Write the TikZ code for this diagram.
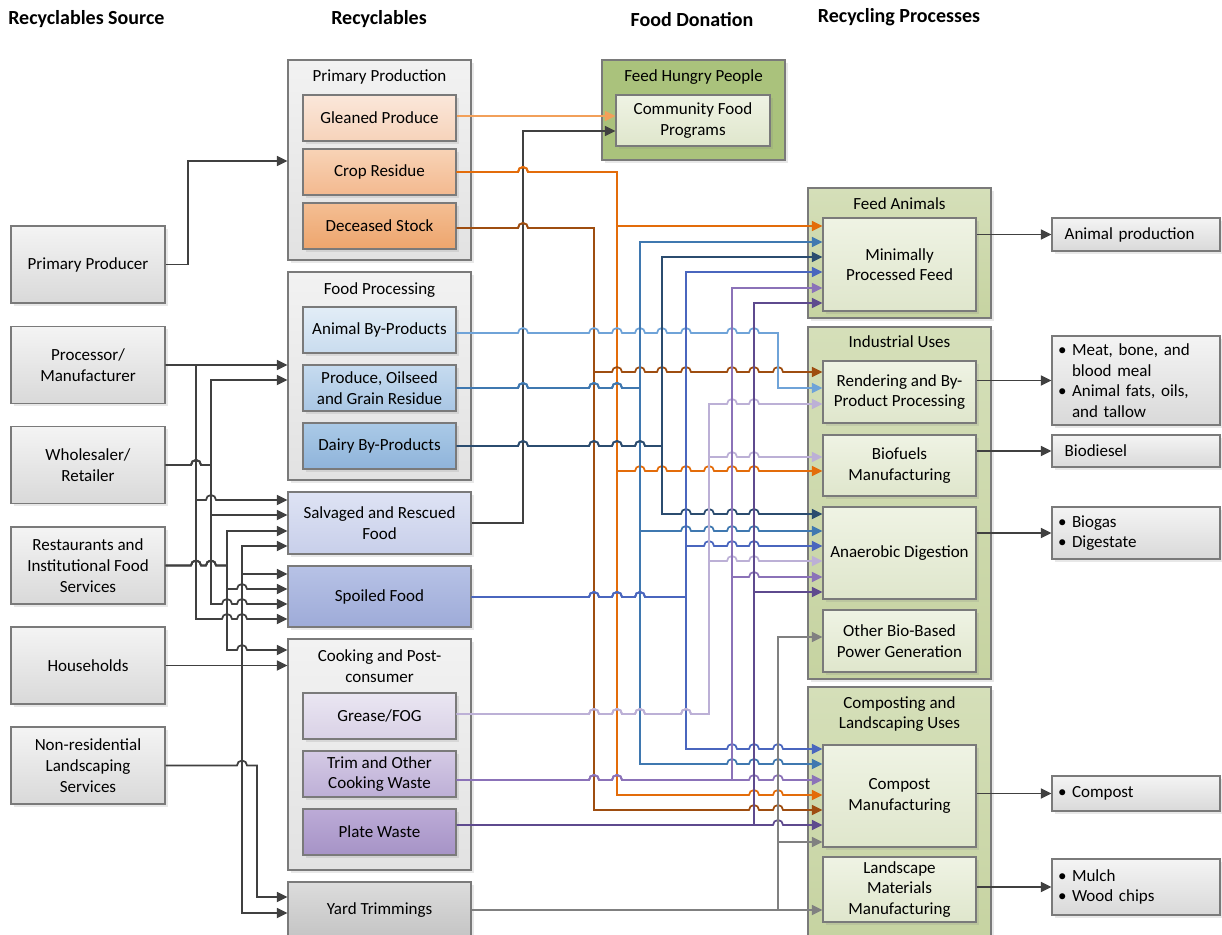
\documentclass[tikz,border=0pt]{standalone}
\usepackage{fontspec}
\setmainfont{Carlito}
\usetikzlibrary{arrows.meta,shadows}

\newcommand\boxfont{\fontsize{12.75pt}{15.5pt}\selectfont}
\newcommand\headfont{\fontsize{15pt}{18pt}\selectfont\bfseries}
% line hop over a vertical line at x=#1, on a horizontal line at y=#2
\newcommand\hopat[2]{-- (#1-5,#2) arc[start angle=180,end angle=0,radius=3.75pt]}
\newcommand\bitem{\makebox[10.5pt][l]{\textbullet}}

% box fills
\definecolor{edgeGray}{HTML}{7A7A7A}
\definecolor{srcTop}{HTML}{F4F4F4}
\definecolor{srcBot}{HTML}{D9D9D9}
\definecolor{grpTop}{HTML}{F2F2F2}
\definecolor{grpBot}{HTML}{E2E2E2}
\definecolor{glTop}{HTML}{FBE7DA}
\definecolor{glBot}{HTML}{F6D3BA}
\definecolor{crTop}{HTML}{F8D3B6}
\definecolor{crBot}{HTML}{F3B98F}
\definecolor{dsTop}{HTML}{F4BE93}
\definecolor{dsBot}{HTML}{EDA56D}
\definecolor{abTop}{HTML}{E2EDF7}
\definecolor{abBot}{HTML}{C9DCEE}
\definecolor{poTop}{HTML}{C6DBEF}
\definecolor{poBot}{HTML}{A9C6E4}
\definecolor{dbTop}{HTML}{AACAE7}
\definecolor{dbBot}{HTML}{8FB3DA}
\definecolor{svTop}{HTML}{DEE3F4}
\definecolor{svBot}{HTML}{C8CFEA}
\definecolor{spTop}{HTML}{B7C2E6}
\definecolor{spBot}{HTML}{9EABD8}
\definecolor{grTop}{HTML}{EAE6F2}
\definecolor{grBot}{HTML}{D9D1E6}
\definecolor{tmTop}{HTML}{D4CAE5}
\definecolor{tmBot}{HTML}{BDAFD6}
\definecolor{pwTop}{HTML}{BCABD7}
\definecolor{pwBot}{HTML}{A693C6}
\definecolor{ydTop}{HTML}{DCDCDC}
\definecolor{ydBot}{HTML}{C4C4C4}
\definecolor{fhpFill}{HTML}{AAC27C}
\definecolor{gnTop}{HTML}{EFF3E4}
\definecolor{gnBot}{HTML}{DFE6CC}
\definecolor{rpTop}{HTML}{D5DFB9}
\definecolor{rpBot}{HTML}{C6D3A1}
% connector colours
\definecolor{cDark}{HTML}{404040}
\definecolor{cGlean}{HTML}{F2A05A}
\definecolor{cCrop}{HTML}{E36C0A}
\definecolor{cDec}{HTML}{9E4D10}
\definecolor{cAnim}{HTML}{6FA3D8}
\definecolor{cProd}{HTML}{3F78B0}
\definecolor{cDairy}{HTML}{2B4C6F}
\definecolor{cSpoil}{HTML}{4A66BE}
\definecolor{cGrease}{HTML}{BCB0D6}
\definecolor{cTrim}{HTML}{8B72B8}
\definecolor{cPlate}{HTML}{5E4A8E}
\definecolor{cYard}{HTML}{808080}

\tikzset{
  sz/.style 2 args={minimum width=#1*0.75pt, minimum height=#2*0.75pt},
  bx/.style={draw=edgeGray, line width=0.8pt, inner sep=1pt, align=center, font=\boxfont,
    drop shadow={shadow xshift=2pt, shadow yshift=-2pt, opacity=0.18}},
  srcbox/.style={bx, top color=srcTop, bottom color=srcBot, sz={154}{77}},
  grpbox/.style={bx, top color=grpTop, bottom color=grpBot},
  subbox/.style 2 args={bx, top color=#1, bottom color=#2, sz={153}{46}},
  rpbox/.style={bx, top color=rpTop, bottom color=rpBot},
  gnbox/.style={bx, top color=gnTop, bottom color=gnBot},
  outbox/.style={bx, top color=srcTop, bottom color=srcBot, minimum height=#1*0.75pt,
    text width=117pt, inner xsep=4.5pt, align=left},
  head/.style={font=\headfont, inner sep=0pt},
  lbl/.style={font=\boxfont, inner sep=0pt, align=center},
  ln/.style={line width=1.3pt, draw=cDark, -{Triangle[length=8pt,width=7.5pt]}}
}

\begin{document}
\begin{tikzpicture}[x=0.75pt,y=-0.75pt]
\useasboundingbox (0,0) rectangle (1222,935);
\clip (0,0) rectangle (1222,935);

% column headings
\node[head, anchor=west] (hsrc) at (8,19) {Recyclables Source};
\node[head] (hrec) at (379,19) {Recyclables};
\node[head] (hdon) at (692,20) {Food Donation};
\node[head] (hpro) at (899,17) {Recycling Processes};

% recyclables source
\node[srcbox] (pprod) at (88,264.5) {Primary Producer};
\node[srcbox] (procm) at (88,365) {Processor/\\Manufacturer};
\node[srcbox] (whole) at (88,465) {Wholesaler/\\Retailer};
\node[srcbox] (rest) at (88,565.5) {Restaurants and\\Institutional Food\\Services};
\node[srcbox] (house) at (88,665.5) {Households};
\node[srcbox] (nonres) at (88,765.5) {Non-residential\\Landscaping\\Services};

% recyclables
\node[grpbox, sz={183}{200}] (ppgrp) at (379.5,160) {};
\node[lbl] (pptxt) at (379.5,77) {Primary Production};
\node[subbox={glTop}{glBot}] (glean) at (379.5,118) {Gleaned Produce};
\node[subbox={crTop}{crBot}] (crop) at (379.5,172) {Crop Residue};
\node[subbox={dsTop}{dsBot}] (dec) at (379.5,226) {Deceased Stock};

\node[grpbox, sz={183}{208}] (fpgrp) at (379.5,376) {};
\node[lbl] (fptxt) at (379.5,290) {Food Processing};
\node[subbox={abTop}{abBot}] (anim) at (379.5,330) {Animal By-Products};
\node[subbox={poTop}{poBot}] (prod) at (379.5,388) {Produce, Oilseed\\and Grain Residue};
\node[subbox={dbTop}{dbBot}] (dairy) at (379.5,446) {Dairy By-Products};

\node[bx, top color=svTop, bottom color=svBot, sz={183}{62}] (salv) at (379.5,523) {Salvaged and Rescued\\Food};
\node[bx, top color=spTop, bottom color=spBot, sz={183}{61}] (spoil) at (379.5,596.5) {Spoiled Food};

\node[grpbox, sz={183}{231}] (ckgrp) at (379.5,754.5) {};
\node[lbl] (cktxt) at (379.5,666) {Cooking and Post-\\consumer};
\node[subbox={grTop}{grBot}] (grease) at (379.5,716) {Grease/FOG};
\node[subbox={tmTop}{tmBot}] (trim) at (379.5,774) {Trim and Other\\Cooking Waste};
\node[subbox={pwTop}{pwBot}] (plate) at (379.5,832) {Plate Waste};

\node[bx, top color=ydTop, bottom color=ydBot, sz={183}{56}] (yard) at (379.5,910) {Yard Trimmings};

% food donation
\node[bx, fill=fhpFill, sz={183}{100}] (fhp) at (693.5,110) {};
\node[lbl] (fhptxt) at (693.5,77) {Feed Hungry People};
\node[gnbox, sz={154}{51}] (cfp) at (693,120.5) {Community Food\\Programs};

% recycling processes
\node[rpbox, sz={183}{130}] (fagrp) at (899.5,253) {};
\node[lbl] (fatxt) at (899.5,204) {Feed Animals};
\node[gnbox, sz={153}{93}] (mpf) at (899.5,264.5) {Minimally\\Processed Feed};

\node[rpbox, sz={183}{352}] (iugrp) at (899.5,503) {};
\node[lbl] (iutxt) at (899.5,342) {Industrial Uses};
\node[gnbox, sz={153}{62}] (rend) at (899.5,392) {Rendering and By-\\Product Processing};
\node[gnbox, sz={153}{61}] (bio) at (899.5,465.5) {Biofuels\\Manufacturing};
\node[gnbox, sz={153}{92}] (ad) at (899.5,553) {Anaerobic Digestion};
\node[gnbox, sz={153}{62}] (obp) at (899.5,641) {Other Bio-Based\\Power Generation};

\node[rpbox, sz={183}{253}] (clgrp) at (899.5,813.5) {};
\node[lbl] (cltxt) at (899.5,714) {Composting and\\Landscaping Uses};
\node[gnbox, sz={153}{102}] (comp) at (899.5,796) {Compost\\Manufacturing};
\node[gnbox, sz={153}{65}] (lmm) at (899.5,889.5) {Landscape\\Materials\\Manufacturing};

% products
\node[outbox={33}] (aprod) at (1136,234.5) {\hspace*{5pt}Animal production};
\node[outbox={89}] (meat) at (1136,380.5) {\bitem Meat, bone, and\\\hspace*{10.5pt}blood meal\\\bitem Animal fats, oils,\\\hspace*{10.5pt}and tallow};
\node[outbox={32}] (biod) at (1136,451) {\hspace*{5pt}Biodiesel};
\node[outbox={52}] (biog) at (1136,533) {\bitem Biogas\\\bitem Digestate};
\node[outbox={35}] (compo) at (1136,793.5) {\bitem Compost};
\node[outbox={56}] (mulch) at (1136,887) {\bitem Mulch\\\bitem Wood chips};

% sources to recyclables
\draw[ln] (pprod.east) -- (188,264.5) |- (ppgrp.west |- 0,161);

\draw[ln] (procm.east) -- (fpgrp.west |- procm.east);
\draw[ln] (procm.east) -- (196,365) -- (196,500) \hopat{211}{500} -- (salv.west |- 0,500);
\draw[ln] (procm.east) -- (196,365) -- (196,619) \hopat{227}{619} \hopat{242}{619} -- (spoil.west |- 0,619);

\draw[ln] (whole.east) \hopat{196}{465} -- (211,465) |- (fpgrp.west |- 0,380);
\draw[ln] (whole.east) \hopat{196}{465} -- (211,465) |- (salv.west |- 0,515);
\draw[ln] (whole.east) \hopat{196}{465} -- (211,465) -- (211,604) \hopat{227}{604} \hopat{242}{604} -- (spoil.west |- 0,604);

\draw[ln] (rest.east) \hopat{196}{565.5} \hopat{211}{565.5} -- (227,565.5) |- (salv.west |- 0,531);
\draw[ln] (rest.east) \hopat{196}{565.5} \hopat{211}{565.5} -- (227,565.5) -- (227,589) \hopat{242}{589} -- (spoil.west |- 0,589);
\draw[ln] (rest.east) \hopat{196}{565.5} \hopat{211}{565.5} -- (227,565.5) -- (227,650) \hopat{242}{650} -- (ckgrp.west |- 0,650);

\draw[ln] (house.east) -- (ckgrp.west |- house.east);
\draw[ln] (house.east) -- (242,665.5) |- (salv.west |- 0,546);
\draw[ln] (house.east) -- (242,665.5) |- (spoil.west |- 0,574);
\draw[ln] (house.east) -- (242,665.5) |- (yard.west |- 0,913);

\draw[ln] (nonres.east) \hopat{242}{765.5} -- (257,765.5) |- (yard.west |- 0,897);

% recyclables to food donation
\draw[ln, cGlean] (glean.east |- 0,116) -- (cfp.west |- 0,116);
\draw[ln] (salv.east) -| (523,131) -- (cfp.west |- 0,131);

% recyclables to recycling processes
\draw[ln, cCrop] (crop.east) \hopat{523}{172} -- (617,172) |- (mpf.west |- 0,226);
\draw[ln, cCrop] (crop.east) \hopat{523}{172} -- (617,172) -- (617,471) \hopat{640}{471} \hopat{662}{471} \hopat{686}{471} \hopat{709}{471} \hopat{732}{471} \hopat{754}{471} -- (bio.west |- 0,471);
\draw[ln, cCrop] (crop.east) \hopat{523}{172} -- (617,172) -- (617,795) \hopat{754}{795} \hopat{778}{795} -- (comp.west |- 0,795);

\draw[ln, cDec] (dec.east |- 0,228) \hopat{523}{228} -- (594,228) -- (594,372) \hopat{617}{372} \hopat{640}{372} \hopat{662}{372} \hopat{686}{372} \hopat{732}{372} \hopat{754}{372} \hopat{778}{372} -- (rend.west |- 0,372);
\draw[ln, cDec] (dec.east |- 0,228) \hopat{523}{228} -- (594,228) -- (594,810) \hopat{754}{810} \hopat{778}{810} -- (comp.west |- 0,810);

\draw[ln, cAnim] (anim.east |- 0,333) \hopat{523}{333} \hopat{594}{333} \hopat{617}{333} \hopat{640}{333} \hopat{662}{333} \hopat{686}{333} \hopat{732}{333} \hopat{754}{333} -- (778,333) |- (rend.west |- 0,388);

\draw[ln, cProd] (prod.east) \hopat{523}{388} \hopat{594}{388} \hopat{617}{388} -- (640,388) |- (mpf.west |- 0,242);
\draw[ln, cProd] (prod.east) \hopat{523}{388} \hopat{594}{388} \hopat{617}{388} -- (640,388) -- (640,531) \hopat{686}{531} \hopat{709}{531} \hopat{732}{531} \hopat{754}{531} -- (ad.west |- 0,531);
\draw[ln, cProd] (prod.east) \hopat{523}{388} \hopat{594}{388} \hopat{617}{388} -- (640,388) -- (640,764) \hopat{732}{764} \hopat{754}{764} \hopat{778}{764} -- (comp.west |- 0,764);

\draw[ln, cDairy] (dairy.east) \hopat{523}{446} \hopat{594}{446} \hopat{617}{446} \hopat{640}{446} -- (662,446) |- (mpf.west |- 0,257);
\draw[ln, cDairy] (dairy.east) \hopat{523}{446} \hopat{594}{446} \hopat{617}{446} \hopat{640}{446} -- (662,446) -- (662,514) \hopat{686}{514} \hopat{709}{514} \hopat{732}{514} \hopat{754}{514} -- (ad.west |- 0,514);

\draw[ln, cSpoil] (spoil.east |- 0,597) \hopat{594}{597} \hopat{617}{597} \hopat{640}{597} -- (686,597) |- (mpf.west |- 0,272);
\draw[ln, cSpoil] (spoil.east |- 0,597) \hopat{594}{597} \hopat{617}{597} \hopat{640}{597} -- (686,597) -- (686,546) \hopat{709}{546} \hopat{732}{546} \hopat{754}{546} -- (ad.west |- 0,546);
\draw[ln, cSpoil] (spoil.east |- 0,597) \hopat{594}{597} \hopat{617}{597} \hopat{640}{597} -- (686,597) -- (686,749) \hopat{732}{749} \hopat{754}{749} \hopat{778}{749} -- (comp.west |- 0,749);

\draw[ln, cGrease] (grease.east |- 0,714) \hopat{594}{714} \hopat{617}{714} \hopat{640}{714} \hopat{686}{714} -- (709,714) -- (709,404) \hopat{732}{404} \hopat{754}{404} -- (rend.west |- 0,404);
\draw[ln, cGrease] (grease.east |- 0,714) \hopat{594}{714} \hopat{617}{714} \hopat{640}{714} \hopat{686}{714} -- (709,714) -- (709,457) \hopat{732}{457} \hopat{754}{457} -- (bio.west |- 0,457);
\draw[ln, cGrease] (grease.east |- 0,714) \hopat{594}{714} \hopat{617}{714} \hopat{640}{714} \hopat{686}{714} -- (709,714) -- (709,561) \hopat{732}{561} \hopat{754}{561} -- (ad.west |- 0,561);

\draw[ln, cTrim] (trim.east |- 0,780) \hopat{594}{780} \hopat{617}{780} -- (732,780) |- (mpf.west |- 0,288);
\draw[ln, cTrim] (trim.east |- 0,780) \hopat{594}{780} \hopat{617}{780} -- (732,780) -- (732,577) \hopat{754}{577} -- (ad.west |- 0,577);
\draw[ln, cTrim] (trim.east |- 0,780) \hopat{594}{780} \hopat{617}{780} \hopat{754}{780} \hopat{778}{780} -- (comp.west |- 0,780);

\draw[ln, cPlate] (plate.east |- 0,825) -- (754,825) |- (mpf.west |- 0,303);
\draw[ln, cPlate] (plate.east |- 0,825) -- (754,825) |- (ad.west |- 0,592);
\draw[ln, cPlate] (plate.east |- 0,825) \hopat{778}{825} -- (comp.west |- 0,825);

\draw[ln, cYard] (yard.east |- 0,910) -- (778,910) |- (obp.west |- 0,637);
\draw[ln, cYard] (yard.east |- 0,910) -- (778,910) |- (comp.west |- 0,842);
\draw[ln, cYard] (yard.east |- 0,910) -- (lmm.west |- 0,910);

% processes to products
\draw[ln] (mpf.east |- aprod.west) -- (aprod.west);
\draw[ln] (rend.east |- meat.west) -- (meat.west);
\draw[ln] (bio.east |- biod.west) -- (biod.west);
\draw[ln] (ad.east |- biog.west) -- (biog.west);
\draw[ln] (comp.east |- compo.west) -- (compo.west);
\draw[ln] (lmm.east |- mulch.west) -- (mulch.west);
\end{tikzpicture}
\end{document}
